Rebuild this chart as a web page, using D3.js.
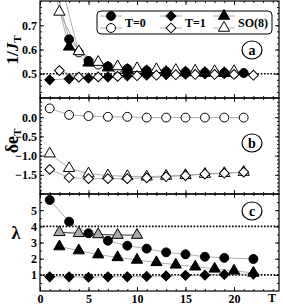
<!DOCTYPE html>
<html><head><meta charset="utf-8">
<script src="https://cdn.jsdelivr.net/npm/d3@7"></script>
<style>body{margin:0;background:#fff}svg{display:block}</style>
</head><body><svg id="chart" width="283" height="307"></svg>
<script>
// ---------------- data ----------------
const oddT  = [1,3,5,7,9,11,13,15,17,19,21];
const evenT = [2,4,6,8,10,12,14,16,18,20,22];
const cOddT = [1,3,5,7,9,11,13,15,17,19,22];
const xTicks = [0,5,10,15,20];

// panel a : 1/J_T
const aCircFilled = [0.95,0.642,0.553,0.530,0.520,0.513,0.509,0.507,0.505,0.504,0.503];
const aTriFilled  = [0.92,0.611,0.545,0.525,0.515,0.510,0.507,0.505,0.503,0.502];
const aDiaFilled  = [0.475,0.479,0.482,0.487,0.491,0.494,0.496,0.498,0.499,0.500];
const aCircOpen   = [0.90,0.588,0.538,0.520,0.512,0.507,0.505,0.503,0.502,0.501];
const aTriOpen    = [0.755,0.592,0.548,0.530,0.522,0.518,0.515,0.512,0.510,0.510];
const aDiaOpen    = [0.513,0.486,0.487,0.489,0.492,0.494,0.496,0.497,0.497,0.497,0.494];
const aTicks = [0.5,0.6,0.7];

// panel b : delta e_T
const bCircOpen = [0.23,0.06,0.03,0.01,0.01,-0.01,-0.01,-0.01,-0.01,-0.01,-0.01];
const bTriOpen  = [-0.95,-1.33,-1.47,-1.52,-1.54,-1.55,-1.53,-1.51,-1.48,-1.46,-1.43];
const bDiaOpen  = [-1.36,-1.57,-1.60,-1.60,-1.60,-1.58,-1.55,-1.52,-1.48,-1.46,-1.43];
const bTicks = [0.0,-0.5,-1.0,-1.5];

// panel c : lambda
const cCircFilled = [5.63,4.29,3.57,3.11,2.80,2.62,2.39,2.27,2.12,2.05,1.98];
const cTriGrey    = [3.63,3.57,3.50,3.46,3.46];
const cTriFilled  = [2.75,2.50,2.25,2.08,1.92,1.77,1.62,1.50,1.37,1.25,1.12];
const cDiaFilled  = [0.88,0.88,0.85,0.88,0.88,0.90,0.93,0.97,0.98,1.02,1.05];
const cTicks = [1,2,3,4,5];

const legendLabels = ["T=0","T=1","SO(8)"];
const legendShapes = ["circle","diamond","triangle"];

// ---------------- layout ----------------
const svg = d3.select("#chart");
const L = 40, R = 279;
const font = "'Liberation Serif', 'DejaVu Serif', serif";
const x = d3.scaleLinear().domain([0, (R-L)/9.7]).range([L, R]);

const panels = [
  {top:1,  bot:98,  dom:[0.4,0.8],  ticks:aTicks, minor:d3.range(0.425,0.8,0.025), fmt:d3.format(".1f"), label:"a", ly:50},
  {top:98, bot:194, dom:[-2,0.5],   ticks:bTicks, minor:d3.range(-2,0.5,0.1),    fmt:d3.format(".1f"), label:"b", ly:143},
  {top:194,bot:291, dom:[0,6],      ticks:cTicks, minor:d3.range(0.5,6,0.5),     fmt:d3.format("d"),   label:"c", ly:211}
];
panels.forEach(p => p.y = d3.scaleLinear().domain(p.dom).range([p.bot, p.top]));

const sym = {
  circle: d3.symbol().type(d3.symbolCircle).size(62),
  diamond: d3.symbol().type(d3.symbolSquare).size(48),
  triangle: d3.symbol().type(d3.symbolTriangle).size(55)
};

const clip = svg.append("defs");
panels.forEach((p,i) => {
  clip.append("clipPath").attr("id","clip"+i).append("rect")
    .attr("x",L).attr("y",p.top).attr("width",R-L).attr("height",p.bot-p.top);
});

function series(pi, ts, vals, shape, fill, lineColor) {
  const p = panels[pi];
  const pts = vals.map((v,i)=>[ts[i], v]);
  const g = svg.append("g").attr("clip-path","url(#clip"+pi+")");
  g.append("path").datum(pts)
    .attr("fill","none").attr("stroke",lineColor||"#9a9a9a").attr("stroke-width",0.8)
    .attr("d", d3.line().x(d=>x(d[0])).y(d=>p.y(d[1])));
  return () => {
    const g2 = svg.append("g").attr("clip-path","url(#clip"+pi+")");
    g2.selectAll("path").data(pts).join("path")
      .attr("d", sym[shape])
      .attr("transform", d => `translate(${x(d[0])},${p.y(d[1])})` + (shape==="diamond" ? " rotate(45)" : ""))
      .attr("fill", fill).attr("stroke", "#000").attr("stroke-width", 1);
  };
}

function hline(pi, v) {
  const p = panels[pi];
  svg.append("line").attr("x1",L).attr("x2",R).attr("y1",p.y(v)).attr("y2",p.y(v))
    .attr("stroke","#000").attr("stroke-width",1.6).attr("stroke-dasharray","1.6,1.6");
}
hline(0,0.5); hline(2,4); hline(2,1);

const draws = [];
draws.push(series(0, evenT, aCircOpen, "circle", "#fff"));
draws.push(series(0, evenT, aTriOpen, "triangle", "#fff"));
draws.push(series(0, evenT, aDiaOpen, "diamond", "#fff"));
draws.push(series(0, oddT, aDiaFilled, "diamond", "#000"));
draws.push(series(0, oddT, aTriFilled, "triangle", "#000"));
draws.push(series(0, oddT, aCircFilled, "circle", "#000"));
draws.push(series(1, oddT, bCircOpen, "circle", "#fff"));
draws.push(series(1, oddT, bTriOpen, "triangle", "#fff"));
draws.push(series(1, oddT, bDiaOpen, "diamond", "#fff"));
draws.push(series(2, cOddT, cCircFilled, "circle", "#000"));
draws.push(series(2, evenT, cTriFilled, "triangle", "#000"));
draws.push(series(2, evenT, cTriGrey, "triangle", "#aaa", "#000"));
draws.push(series(2, cOddT, cDiaFilled, "diamond", "#000"));
draws.forEach(f => f());

panels.forEach((p,i) => {
  svg.append("g").attr("transform",`translate(${L},0)`)
    .call(d3.axisLeft(p.y).tickValues(p.ticks).tickFormat(p.fmt).tickSizeInner(-4).tickSizeOuter(0).tickPadding(3));
  svg.append("g").attr("transform",`translate(${L},0)`)
    .call(d3.axisLeft(p.y).tickValues(p.minor).tickFormat("").tickSizeInner(-2).tickSizeOuter(0));
  svg.append("g").attr("transform",`translate(${R},0)`)
    .call(d3.axisRight(p.y).tickValues(p.ticks).tickFormat("").tickSizeInner(-4).tickSizeOuter(0));
  svg.append("g").attr("transform",`translate(${R},0)`)
    .call(d3.axisRight(p.y).tickValues(p.minor).tickFormat("").tickSizeInner(-2).tickSizeOuter(0));
  const xm = d3.range(1,25,1);
  svg.append("g").attr("transform",`translate(0,${p.bot})`)
    .call(d3.axisBottom(x).tickValues(xTicks).tickSizeInner(-4).tickSizeOuter(0).tickFormat(i===2? d3.format("d") : "").tickPadding(3));
  svg.append("g").attr("transform",`translate(0,${p.bot})`)
    .call(d3.axisBottom(x).tickValues(xm).tickSizeInner(-2).tickSizeOuter(0).tickFormat(""));
  svg.append("g").attr("transform",`translate(0,${p.top})`)
    .call(d3.axisTop(x).tickValues(xTicks).tickSizeInner(-4).tickSizeOuter(0).tickFormat(""));
  svg.append("g").attr("transform",`translate(0,${p.top})`)
    .call(d3.axisTop(x).tickValues(xm).tickSizeInner(-2).tickSizeOuter(0).tickFormat(""));
  svg.append("rect").attr("x",L).attr("y",p.top).attr("width",R-L).attr("height",p.bot-p.top)
    .attr("fill","none").attr("stroke","#000").attr("stroke-width",1.2);
  svg.append("ellipse").attr("cx",252).attr("cy",p.ly).attr("rx",10).attr("ry",9)
    .attr("fill","#fff").attr("stroke","#000").attr("stroke-width",1.2);
  svg.append("text").attr("x",252).attr("y",p.ly+4.5).attr("text-anchor","middle")
    .attr("font-family",font).attr("font-weight","bold").attr("font-size",14).text(p.label);
});
svg.selectAll(".domain").remove();
svg.selectAll(".tick line").attr("stroke","#000").attr("stroke-width",0.9);
svg.selectAll(".tick text").attr("font-family",font).attr("font-weight","bold").attr("font-size",12).attr("fill","#000");

svg.append("text").attr("x",272).attr("y",302).attr("text-anchor","middle")
  .attr("font-family",font).attr("font-weight","bold").attr("font-size",12).text("T");

const t1 = svg.append("text").attr("transform","translate(18,50) rotate(-90)").attr("text-anchor","middle")
  .attr("font-family",font).attr("font-weight","bold").attr("font-size",17);
t1.append("tspan").text("1/");
t1.append("tspan").attr("font-style","italic").text("J");
t1.append("tspan").attr("font-size",11).attr("dy",3).text("T");
const t2 = svg.append("text").attr("transform","translate(18,141) rotate(-90)").attr("text-anchor","middle")
  .attr("font-family",font).attr("font-weight","bold").attr("font-size",18);
t2.append("tspan").text("δe");
t2.append("tspan").attr("font-size",11).attr("dy",3).text("T");
svg.append("text").attr("x",16).attr("y",239).attr("text-anchor","middle")
  .attr("font-family",font).attr("font-weight","bold").attr("font-size",18).text("λ");

const lg = svg.append("g");
lg.append("rect").attr("x",97).attr("y",11).attr("width",175).attr("height",23).attr("rx",4)
  .attr("fill","#fff").attr("stroke","#000").attr("stroke-width",1);
const lx = [111,171,224];
legendShapes.forEach((s,i) => {
  [[16,"#000"],[28,"#fff"]].forEach(([yy,f]) => {
    lg.append("line").attr("x1",lx[i]-11).attr("x2",lx[i]+11).attr("y1",yy).attr("y2",yy)
      .attr("stroke","#9a9a9a").attr("stroke-width",0.8);
    lg.append("path").attr("d",sym[s]).attr("transform",`translate(${lx[i]},${yy})`+(s==="diamond"?" rotate(45)":""))
      .attr("fill",f).attr("stroke","#000");
  });
  lg.append("text").attr("x",lx[i]+14).attr("y",27).attr("font-family",font).attr("font-weight","bold")
    .attr("font-size",12).text(legendLabels[i]);
});
</script></body></html>
